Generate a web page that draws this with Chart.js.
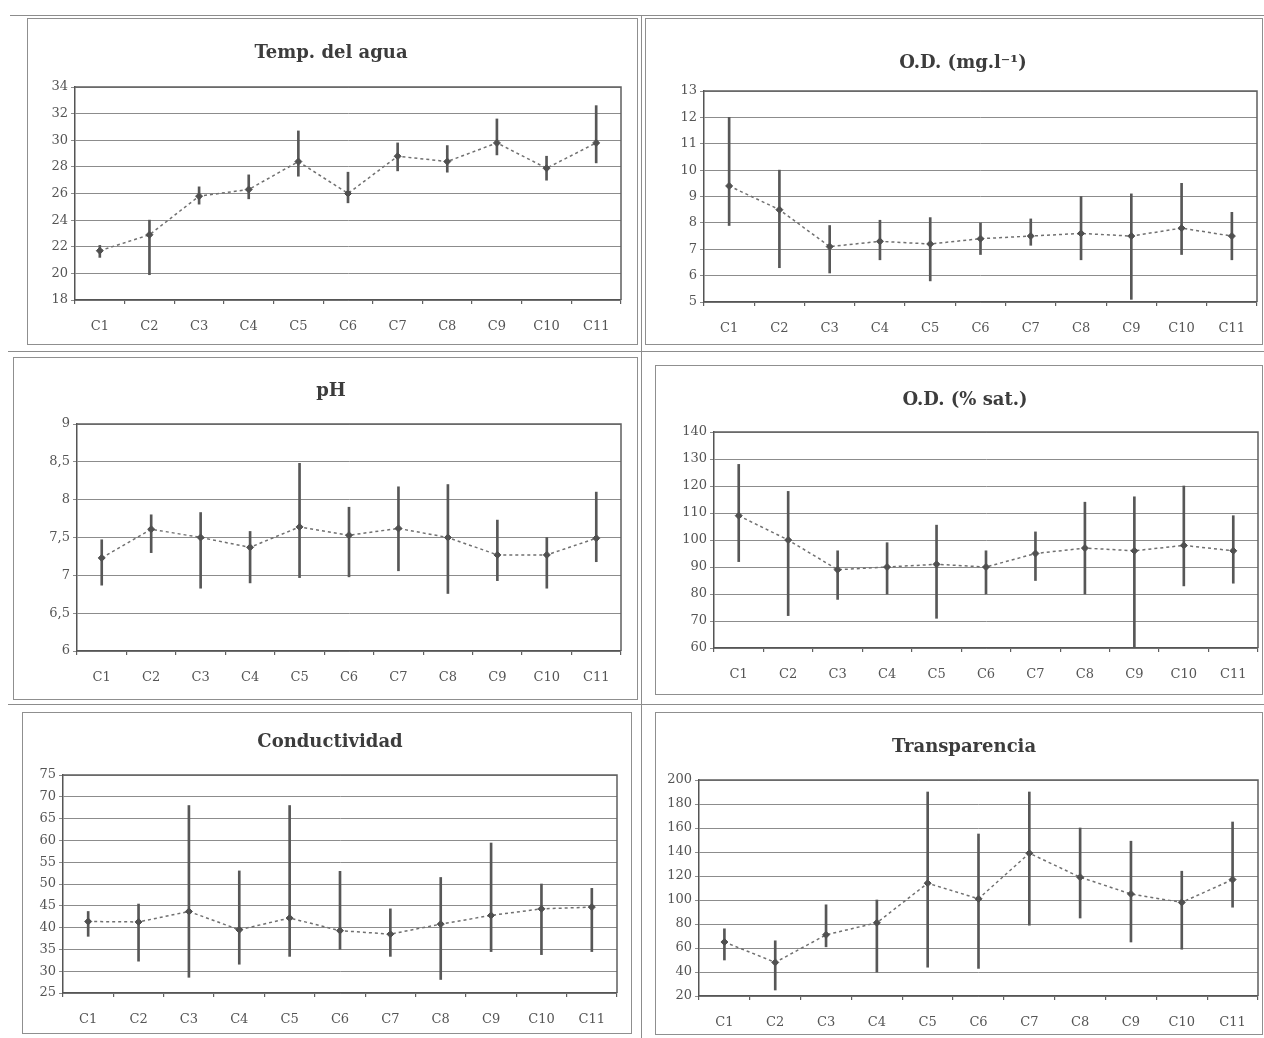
<!DOCTYPE html>
<html>
<head>
<meta charset="utf-8">
<script src="https://cdn.jsdelivr.net/npm/chart.js@4.4.1/dist/chart.umd.min.js"></script>
<style>
  html, body { margin: 0; padding: 0; background: #fff; }
  body { width: 1264px; height: 1038px; position: relative; overflow: hidden; }
  canvas { position: absolute; }
  .rule { position: absolute; background: #8c8c8c; }
</style>
</head>
<body>
<div class="rule" style="left:10px;top:15px;width:1254px;height:1px"></div>
<div class="rule" style="left:641px;top:15px;width:1px;height:1023px"></div>
<div class="rule" style="left:8px;top:351px;width:1256px;height:1px"></div>
<div class="rule" style="left:8px;top:704px;width:1256px;height:1px"></div>

<canvas id="c1"></canvas>
<canvas id="c2"></canvas>
<canvas id="c3"></canvas>
<canvas id="c4"></canvas>
<canvas id="c5"></canvas>
<canvas id="c6"></canvas>

<script>
// Sampling stations
const categories = ['C1', 'C2', 'C3', 'C4', 'C5', 'C6', 'C7', 'C8', 'C9', 'C10', 'C11'];

// Water temperature (°C): mean, minimum, maximum
const tempMean = [21.7, 22.9, 25.8, 26.3, 28.4, 26.0, 28.8, 28.4, 29.8, 27.9, 29.8];
const tempLow  = [21.2, 19.9, 25.2, 25.6, 27.3, 25.3, 27.7, 27.6, 28.9, 27.0, 28.3];
const tempHigh = [22.1, 24.0, 26.5, 27.4, 30.7, 27.6, 29.8, 29.6, 31.6, 28.8, 32.6];
const tempTicks = [18, 20, 22, 24, 26, 28, 30, 32, 34];

// Dissolved oxygen (mg/l)
const odMgMean = [9.4, 8.5, 7.1, 7.3, 7.2, 7.4, 7.5, 7.6, 7.5, 7.8, 7.5];
const odMgLow  = [7.9, 6.3, 6.1, 6.6, 5.8, 6.8, 7.15, 6.6, 5.1, 6.8, 6.6];
const odMgHigh = [12.0, 10.0, 7.9, 8.1, 8.2, 8.0, 8.15, 9.0, 9.1, 9.5, 8.4];
const odMgTicks = [5, 6, 7, 8, 9, 10, 11, 12, 13];

// pH
const phMean = [7.23, 7.61, 7.5, 7.37, 7.64, 7.53, 7.62, 7.5, 7.27, 7.27, 7.49];
const phLow  = [6.87, 7.3, 6.83, 6.9, 6.97, 6.98, 7.06, 6.76, 6.93, 6.83, 7.18];
const phHigh = [7.47, 7.8, 7.83, 7.58, 8.48, 7.9, 8.17, 8.2, 7.73, 7.5, 8.1];
const phTicks = [6, 6.5, 7, 7.5, 8, 8.5, 9];

// Dissolved oxygen (% saturation)
const odSatMean = [109, 100, 89, 90, 91, 90, 95, 97, 96, 98, 96];
const odSatLow  = [92, 72, 78, 80, 71, 80, 85, 80, 60, 83, 84];
const odSatHigh = [128, 118, 96, 99, 105.5, 96, 103, 114, 116, 120, 109];
const odSatTicks = [60, 70, 80, 90, 100, 110, 120, 130, 140];

// Conductivity
const condMean = [41.4, 41.3, 43.7, 39.5, 42.2, 39.3, 38.5, 40.8, 42.8, 44.3, 44.7];
const condLow  = [38.0, 32.3, 28.6, 31.6, 33.4, 35.0, 33.4, 28.1, 34.5, 33.8, 34.5];
const condHigh = [43.7, 45.4, 68.0, 53.0, 68.0, 52.9, 44.3, 51.5, 59.4, 50.0, 49.0];
const condTicks = [25, 30, 35, 40, 45, 50, 55, 60, 65, 70, 75];

// Transparency (cm)
const transMean = [65, 48, 71, 81, 114, 101, 139, 119, 105, 98, 117];
const transLow  = [50, 25, 61, 40, 44, 43, 79, 85, 65, 59, 94];
const transHigh = [76, 66, 96, 100, 190, 155, 190, 160, 149, 124, 165];
const transTicks = [20, 40, 60, 80, 100, 120, 140, 160, 180, 200];

// Panel placement on the page: frame box, plot area edges, title centre
const panels = [
  { id: 'c1', title: 'Temp. del agua', mean: tempMean, low: tempLow, high: tempHigh, ticks: tempTicks,
    frame: [27, 18, 611, 327], plot: [75, 87, 621, 300], titleX: 331, titleY: 53 },
  { id: 'c2', title: 'O.D. (mg.l\u207B\u00B9)', mean: odMgMean, low: odMgLow, high: odMgHigh, ticks: odMgTicks,
    frame: [645, 18, 618, 327], plot: [704, 91, 1257, 302], titleX: 963, titleY: 63 },
  { id: 'c3', title: 'pH', mean: phMean, low: phLow, high: phHigh, ticks: phTicks, comma: true,
    frame: [13, 357, 625, 343], plot: [77, 424, 621, 651], titleX: 331, titleY: 391 },
  { id: 'c4', title: 'O.D. (% sat.)', mean: odSatMean, low: odSatLow, high: odSatHigh, ticks: odSatTicks,
    frame: [655, 365, 608, 330], plot: [714, 432, 1258, 648], titleX: 965, titleY: 400 },
  { id: 'c5', title: 'Conductividad', mean: condMean, low: condLow, high: condHigh, ticks: condTicks,
    frame: [22, 712, 610, 322], plot: [63, 775, 617, 993], titleX: 330, titleY: 742 },
  { id: 'c6', title: 'Transparencia', mean: transMean, low: transLow, high: transHigh, ticks: transTicks,
    frame: [655, 712, 608, 323], plot: [699, 780, 1259, 996], titleX: 964, titleY: 747 }
];

const FONT = "'DejaVu Serif', 'Liberation Serif', serif";
const TITLE_SIZE = 18;
const TICK_SIZE = 13;

// Outline of the panel and the box around the plot area
const framePlugin = {
  id: 'framePlugin',
  beforeDatasetsDraw(chart) {
    const { ctx, chartArea: a } = chart;
    ctx.save();
    ctx.strokeStyle = '#5f5f5f';
    ctx.lineWidth = 1.5;
    ctx.beginPath();
    ctx.moveTo(a.left, a.top);
    ctx.lineTo(a.right, a.top);
    ctx.lineTo(a.right, a.bottom);
    ctx.stroke();
    ctx.restore();
  },
  afterDraw(chart) {
    const { ctx, width, height } = chart;
    ctx.save();
    ctx.strokeStyle = '#8f8f8f';
    ctx.lineWidth = 1;
    ctx.strokeRect(0.5, 0.5, width - 1, height - 1);
    ctx.restore();
  }
};

panels.forEach(p => {
  const [fx, fy, fw, fh] = p.frame;
  const [pl, pt, pr, pb] = p.plot;
  const canvas = document.getElementById(p.id);
  canvas.width = fw;
  canvas.height = fh;
  canvas.style.left = fx + 'px';
  canvas.style.top = fy + 'px';

  // The title is centred over the padded chart box; axes fill the rest
  const half = Math.min(p.titleX - fx, fx + fw - p.titleX);
  const padL = p.titleX - half - fx;
  const padR = fx + fw - (p.titleX + half);
  const yWidth = pl - fx - padL;
  const rightWidth = fx + fw - padR - pr;
  const xHeight = fy + fh - pb;
  const titleLine = TITLE_SIZE * 1.2;
  const titleTop = p.titleY - fy - titleLine / 2;
  const titleBottom = (pt - fy) - titleTop - titleLine;

  new Chart(canvas, {
    data: {
      labels: categories,
      datasets: [
        {
          type: 'line',
          data: p.mean,
          order: 0,
          borderColor: '#707070',
          borderWidth: 1.5,
          borderDash: [3, 3],
          tension: 0,
          pointStyle: 'rectRot',
          pointRadius: 3.5,
          pointBackgroundColor: '#505050',
          pointBorderColor: '#505050',
          pointBorderWidth: 1
        },
        {
          type: 'bar',
          data: p.low.map((lo, i) => [lo, p.high[i]]),
          order: 1,
          backgroundColor: '#575757',
          borderWidth: 0,
          barThickness: 2
        }
      ]
    },
    options: {
      responsive: false,
      animation: false,
      layout: { padding: { left: padL, right: padR, top: 0, bottom: 0 } },
      plugins: {
        legend: { display: false },
        tooltip: { enabled: false },
        title: {
          display: true,
          text: p.title,
          color: '#3c3c3c',
          font: { family: FONT, size: TITLE_SIZE, weight: 'bold', lineHeight: 1.2 },
          padding: { top: titleTop, bottom: titleBottom }
        }
      },
      scales: {
        x: {
          type: 'category',
          offset: true,
          grid: { offset: true, drawOnChartArea: false, tickLength: 4, color: '#5f5f5f', lineWidth: 1.2 },
          border: { color: '#555', width: 1.5 },
          ticks: { color: '#555', font: { family: FONT, size: TICK_SIZE }, padding: 15, maxRotation: 0, autoSkip: false },
          afterFit(scale) { scale.height = xHeight; }
        },
        y: {
          min: p.ticks[0],
          max: p.ticks[p.ticks.length - 1],
          afterBuildTicks(scale) { scale.ticks = p.ticks.map(v => ({ value: v })); },
          grid: { color: '#8c8c8c', lineWidth: 1, tickLength: 4 },
          border: { color: '#555', width: 1.5 },
          ticks: {
            color: '#555',
            font: { family: FONT, size: TICK_SIZE },
            padding: 3,
            callback: v => p.comma ? String(v).replace('.', ',') : String(v)
          },
          afterFit(scale) { scale.width = yWidth; }
        },
        // empty margin on the right of the plot box
        yRight: {
          position: 'right',
          min: p.ticks[0],
          max: p.ticks[p.ticks.length - 1],
          grid: { display: false },
          border: { display: false },
          ticks: { display: false },
          afterFit(scale) { scale.width = rightWidth; }
        }
      }
    },
    plugins: [framePlugin]
  });
});
</script>
</body>
</html>
